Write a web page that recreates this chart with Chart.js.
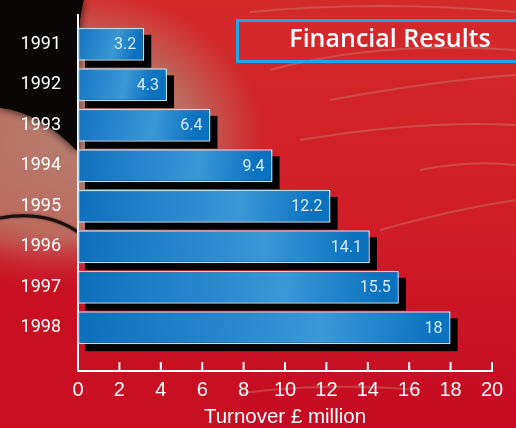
<!DOCTYPE html>
<html>
<head>
<meta charset="utf-8">
<script src="https://cdn.jsdelivr.net/npm/chart.js@4.4.1/dist/chart.umd.min.js"></script>
<style>
  html, body { margin: 0; padding: 0; background: #c8141e; }
  #wrap { width: 516px; height: 428px; position: relative; }
</style>
</head>
<body>
<div id="wrap"><canvas id="turnover" width="516" height="428"></canvas></div>
<script>
// chart data
const years = ["1991", "1992", "1993", "1994", "1995", "1996", "1997", "1998"];
const turnover = [3.2, 4.3, 6.4, 9.4, 12.2, 14.1, 15.5, 18];
const xTicks = [0, 2, 4, 6, 8, 10, 12, 14, 16, 18, 20];
const chartTitle = "Financial Results";
const axisTitle = "Turnover £ million";

const labelFont = 'Roboto, "DejaVu Sans Condensed", sans-serif';

// red textured backdrop with the dark swoosh top left
const backdrop = {
    id: 'backdrop',
    beforeDraw(chart) {
        const ctx = chart.ctx;
        const w = chart.width, h = chart.height;
        ctx.save();
        let g = ctx.createLinearGradient(0, 0, 0, h);
        g.addColorStop(0, '#d42a2a');
        g.addColorStop(0.55, '#d01c26');
        g.addColorStop(1, '#c40a22');
        ctx.fillStyle = g;
        ctx.fillRect(0, 0, w, h);

        // tan patch on the left, stretched sideways
        ctx.save();
        ctx.translate(70, 140);
        ctx.scale(1.3, 1);
        g = ctx.createRadialGradient(0, 0, 10, 0, 0, 150);
        g.addColorStop(0, 'rgba(180,128,112,0.95)');
        g.addColorStop(0.6, 'rgba(182,126,108,0.8)');
        g.addColorStop(1, 'rgba(190,120,105,0)');
        ctx.fillStyle = g;
        ctx.fillRect(-120, -140, 400, 300);
        ctx.restore();

        // light streaks
        ctx.strokeStyle = 'rgba(205,150,130,0.35)';
        ctx.lineWidth = 2;
        const streaks = [[270, 70, 380, 40, 516, 50], [300, 140, 420, 120, 516, 125], [330, 100, 440, 80, 516, 75],
            [250, 12, 380, 0, 516, 12], [380, 230, 450, 210, 516, 200], [200, 400, 300, 380, 420, 390], [420, 170, 470, 160, 516, 165]];
        streaks.forEach(s => {
            ctx.beginPath();
            ctx.moveTo(s[0], s[1]);
            ctx.quadraticCurveTo(s[2], s[3], s[4], s[5]);
            ctx.stroke();
        });

        // black swoosh
        ctx.fillStyle = '#0a0606';
        ctx.shadowColor = 'rgba(10,6,6,0.9)';
        ctx.shadowBlur = 8;
        ctx.beginPath();
        ctx.moveTo(0, 0);
        ctx.lineTo(84, 0);
        ctx.quadraticCurveTo(74, 30, 78, 152);
        ctx.quadraticCurveTo(40, 112, 0, 108);
        ctx.closePath();
        ctx.fill();

        // dark curve across the tan
        ctx.shadowBlur = 2;
        ctx.strokeStyle = 'rgba(20,10,10,0.85)';
        ctx.lineWidth = 3;
        ctx.beginPath();
        ctx.moveTo(0, 218);
        ctx.quadraticCurveTo(45, 210, 78, 232);
        ctx.stroke();
        ctx.restore();

        // fade to red at the bottom left
        g = ctx.createLinearGradient(0, 240, 0, 300);
        g.addColorStop(0, 'rgba(200,16,32,0)');
        g.addColorStop(1, 'rgba(200,16,32,1)');
        ctx.fillStyle = g;
        ctx.fillRect(0, 240, 240, 188);
    }
};

// axes, upward tick marks and drop shadows
const axesAndShadows = {
    id: 'axesAndShadows',
    beforeDatasetsDraw(chart) {
        const ctx = chart.ctx;
        const x = chart.scales.x;
        const x0 = x.getPixelForValue(0);
        const axisY = 370;
        ctx.save();
        ctx.strokeStyle = '#ffffff';
        ctx.lineWidth = 2;
        ctx.beginPath();
        ctx.moveTo(x0, 14);
        ctx.lineTo(x0, axisY + 1);
        ctx.lineTo(x.getPixelForValue(20) + 1, axisY + 1);
        ctx.stroke();
        xTicks.forEach(v => {
            const px = x.getPixelForValue(v);
            ctx.beginPath();
            ctx.moveTo(px, axisY - 8);
            ctx.lineTo(px, axisY);
            ctx.stroke();
        });

        ctx.fillStyle = '#000000';
        chart.getDatasetMeta(0).data.forEach(bar => {
            const top = bar.y - bar.height / 2;
            ctx.fillRect(bar.base + 7, top + 7, bar.x - bar.base, bar.height);
        });
        ctx.restore();
    },
    afterDatasetsDraw(chart) {
        const ctx = chart.ctx;
        ctx.save();
        ctx.fillStyle = '#d4eafa';
        ctx.font = '16px ' + labelFont;
        ctx.textAlign = 'right';
        ctx.textBaseline = 'middle';
        chart.getDatasetMeta(0).data.forEach((bar, i) => {
            ctx.fillText(String(turnover[i]), bar.x - 8, bar.y + 1);
        });
        ctx.restore();
    },
    afterDraw(chart) {
        const ctx = chart.ctx;
        ctx.save();
        ctx.strokeStyle = '#1aa6e8';
        ctx.lineWidth = 3;
        ctx.strokeRect(237.5, 20.5, 300, 41);
        ctx.fillStyle = '#ffffff';
        ctx.font = '600 25px "Open Sans", sans-serif';
        ctx.textAlign = 'center';
        ctx.textBaseline = 'alphabetic';
        ctx.fillText(chartTitle, 390, 47);
        ctx.restore();
    }
};

function barGradient(context) {
    const chart = context.chart;
    if (!chart.chartArea) return '#1a7fc8';
    const x = chart.scales.x;
    const v = turnover[context.dataIndex];
    const x0 = x.getPixelForValue(0);
    const x1 = x.getPixelForValue(v);
    const g = chart.ctx.createLinearGradient(x0, 0, x1, 20);
    g.addColorStop(0, '#0a6bbb');
    g.addColorStop(0.7, '#3a98d6');
    g.addColorStop(1, '#0b72c0');
    return g;
}

new Chart(document.getElementById('turnover'), {
    type: 'bar',
    data: {
        labels: years,
        datasets: [{
            data: turnover,
            backgroundColor: barGradient,
            borderColor: '#b9def4',
            borderWidth: 1.5,
            borderSkipped: false,
            barPercentage: 0.81,
            categoryPercentage: 1
        }]
    },
    options: {
        indexAxis: 'y',
        responsive: false,
        animation: false,
        layout: { padding: { left: 0, top: 24, right: 24, bottom: 0 } },
        plugins: {
            legend: { display: false },
            tooltip: { enabled: false }
        },
        scales: {
            x: {
                min: 0,
                max: 20,
                afterFit(scale) {
                    scale.height = 80;
                    scale.paddingLeft = 0;
                    scale.paddingRight = 0;
                },
                afterBuildTicks(scale) { scale.ticks = xTicks.map(v => ({ value: v })); },
                grid: { display: false },
                border: { display: false },
                ticks: {
                    color: '#ffffff',
                    padding: 22,
                    maxRotation: 0,
                    font: { family: '"Liberation Sans", Arial, sans-serif', size: 20 }
                },
                title: {
                    display: true,
                    text: axisTitle,
                    color: '#ffffff',
                    padding: { top: 0, bottom: 0 },
                    font: { family: '"Liberation Sans", Arial, sans-serif', size: 20.5, lineHeight: 1 }
                }
            },
            y: {
                afterFit(scale) { scale.width = 78; },
                grid: { display: false },
                border: { display: false },
                ticks: {
                    color: '#ffffff',
                    padding: 9,
                    font: { family: labelFont, size: 18 }
                }
            }
        }
    },
    plugins: [backdrop, axesAndShadows]
});
</script>
</body>
</html>
